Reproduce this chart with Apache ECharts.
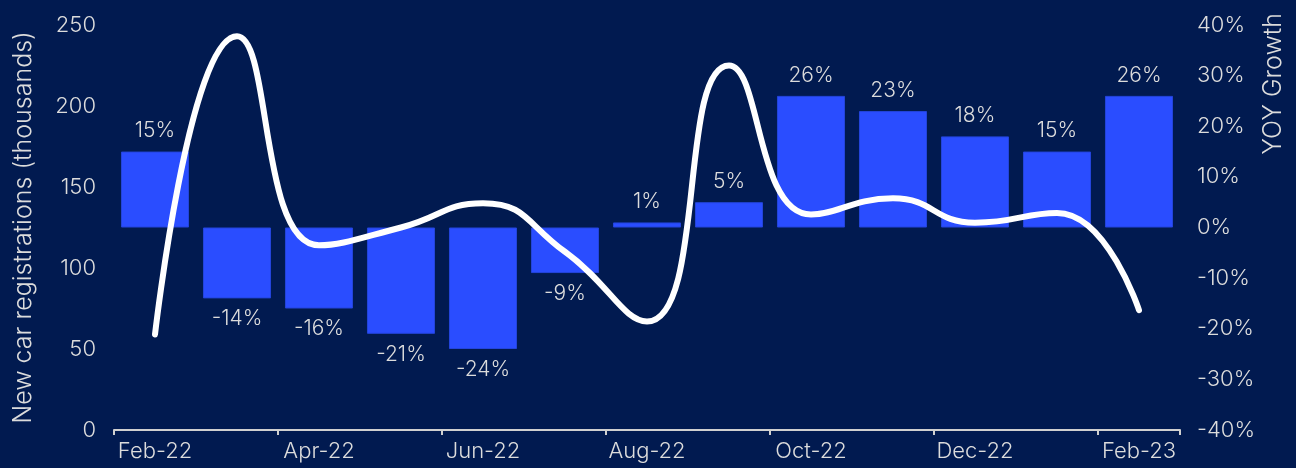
<!DOCTYPE html>
<html>
<head>
<meta charset="utf-8">
<script src="https://cdn.jsdelivr.net/npm/echarts@6/dist/echarts.min.js"></script>
<style>
  html, body { margin: 0; padding: 0; background: #011a50; }
  #chart { width: 1296px; height: 468px; }
</style>
</head>
<body>
<div id="chart"></div>
<script>
// Monthly new car registrations and year-on-year growth
const months = ['Feb-22', 'Mar-22', 'Apr-22', 'May-22', 'Jun-22', 'Jul-22', 'Aug-22',
                'Sep-22', 'Oct-22', 'Nov-22', 'Dec-22', 'Jan-23', 'Feb-23'];
const yoyGrowth = [15, -14, -16, -21, -24, -9, 1, 5, 26, 23, 18, 15, 26];          // %
const registrations = [59, 243, 114, 125, 140, 110, 67, 225, 133, 143, 128, 134, 74]; // thousands

const textColor = '#dcdcdc';
const fontFamily = 'Inter, Lato, sans-serif';
const fontWeight = 300;

const chart = echarts.init(document.getElementById('chart'));

chart.setOption({
  backgroundColor: '#011a50',
  textStyle: { fontFamily: fontFamily, color: textColor, fontWeight: fontWeight },
  animation: false,
  grid: { left: 114, right: 116, top: 25, bottom: 38 },
  xAxis: {
    type: 'category',
    data: months,
    boundaryGap: true,
    axisLine: { show: true, lineStyle: { color: '#d0d0d0', width: 2 } },
    axisTick: { show: true, interval: 1, length: 5, lineStyle: { color: '#d0d0d0', width: 2 } },
    axisLabel: { interval: 1, color: textColor, fontSize: 22, margin: 10,
                 fontFamily: fontFamily, fontWeight: fontWeight }
  },
  yAxis: [
    {
      type: 'value',
      min: 0, max: 250, interval: 50,
      name: 'New car registrations (thousands)',
      nameLocation: 'middle',
      nameRotate: 90,
      nameGap: 78,
      nameTextStyle: { color: textColor, fontSize: 25, fontFamily: fontFamily, fontWeight: fontWeight },
      axisLine: { show: false },
      axisTick: { show: false },
      splitLine: { show: false },
      axisLabel: { color: textColor, fontSize: 22, margin: 18,
                   fontFamily: fontFamily, fontWeight: fontWeight }
    },
    {
      type: 'value',
      min: -40, max: 40, interval: 10,
      position: 'right',
      axisLine: { show: false },
      axisTick: { show: false },
      splitLine: { show: false },
      axisLabel: { color: textColor, fontSize: 22, margin: 17,
                   fontFamily: fontFamily, fontWeight: fontWeight,
                   formatter: '{value}%' }
    }
  ],
  graphic: [
    {
      type: 'text',
      x: 1273, y: 13,
      rotation: Math.PI / 2,
      style: {
        text: 'YOY Growth',
        fill: textColor,
        fontSize: 25,
        fontFamily: fontFamily,
        fontWeight: fontWeight,
        align: 'right',
        verticalAlign: 'middle'
      }
    }
  ],
  series: [
    {
      type: 'bar',
      yAxisIndex: 1,
      barCategoryGap: '17%',
      itemStyle: { color: '#2a4dff', borderColor: '#2445dc', borderWidth: 1 },
      label: {
        show: true,
        color: textColor,
        fontSize: 21,
        fontFamily: fontFamily,
        fontWeight: fontWeight,
        distance: 10,
        formatter: p => p.value + '%'
      },
      data: yoyGrowth.map(v => ({
        value: v,
        label: { position: v >= 0 ? 'top' : 'bottom' }
      })),
      z: 2
    },
    {
      type: 'line',
      yAxisIndex: 0,
      data: registrations,
      smooth: 0.5,
      showSymbol: false,
      symbol: 'none',
      lineStyle: { color: '#ffffff', width: 6, cap: 'round', join: 'round' },
      z: 3
    }
  ]
});
</script>
</body>
</html>
